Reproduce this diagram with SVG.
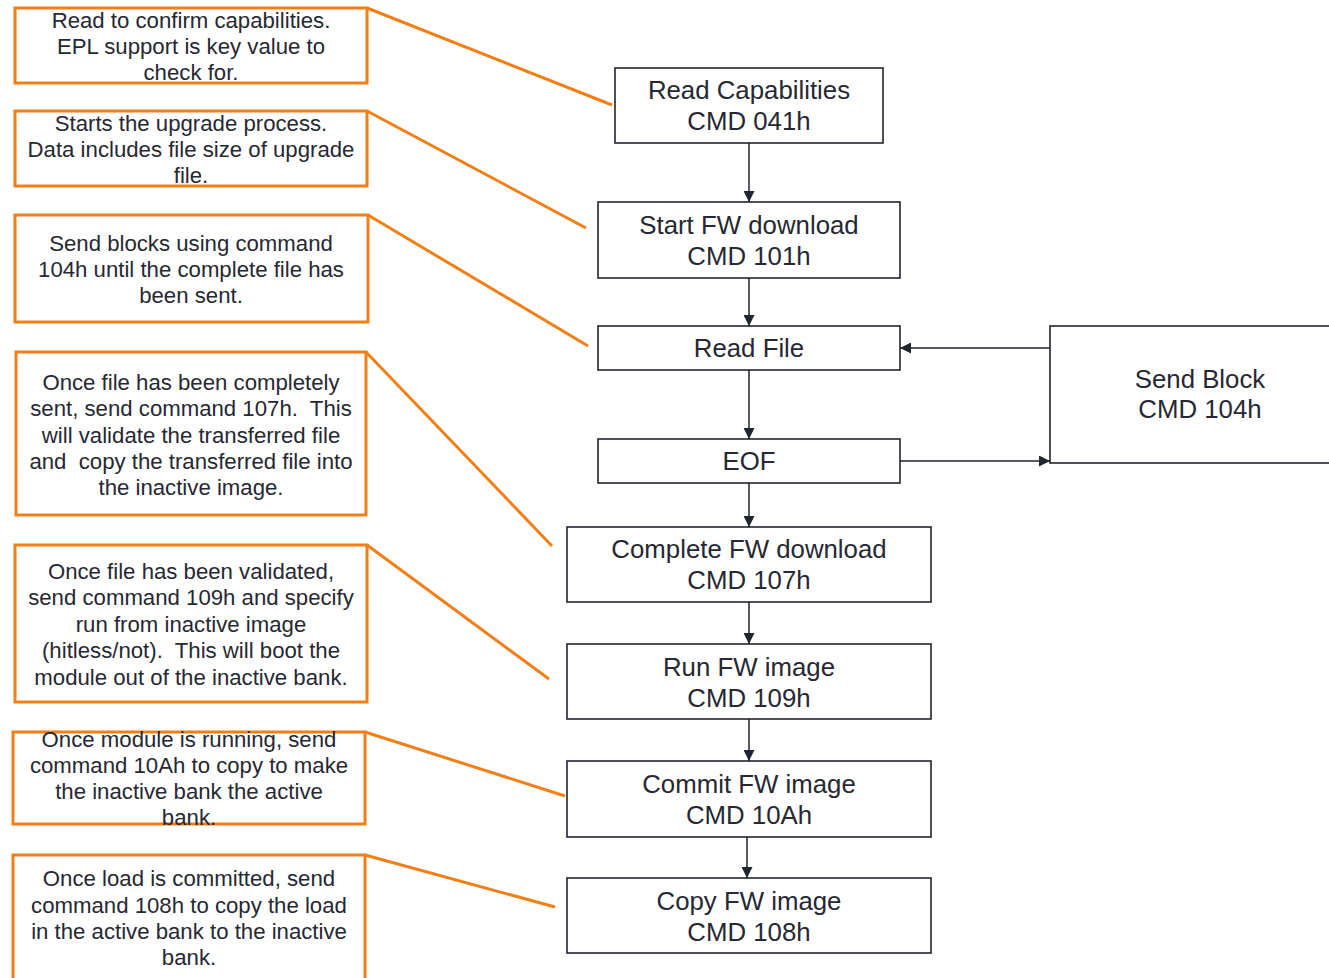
<svg xmlns="http://www.w3.org/2000/svg" width="1329" height="978" viewBox="0 0 1329 978">
<style>
.note{fill:#fff;stroke:#F07F16;stroke-width:3}
.lead{stroke:#F07F16;stroke-width:3;fill:none}
.box{fill:#fff;stroke:#22252e;stroke-width:1.6}
.edge{stroke:#22252e;stroke-width:1.5;fill:none;marker-end:url(#ah)}
.nt{font-family:"Liberation Sans",Arial,sans-serif;font-size:22.2px;fill:#262833;text-anchor:middle;white-space:pre}
.bt{font-family:"Liberation Sans",Arial,sans-serif;font-size:25.8px;fill:#262833;text-anchor:middle}
</style>
<defs>
<marker id="ah" viewBox="0 0 10 10" refX="10" refY="5" markerWidth="11" markerHeight="11" markerUnits="userSpaceOnUse" orient="auto">
<path d="M0,0 L10,5 L0,10 z" fill="#22252e"/>
</marker>
</defs>
<rect width="1329" height="978" fill="#fff"/>

<g id="leaders">
<line class="lead" x1="367" y1="8" x2="612" y2="105"/>
<line class="lead" x1="367" y1="111" x2="586" y2="228"/>
<line class="lead" x1="368" y1="215" x2="588" y2="346"/>
<line class="lead" x1="366" y1="352" x2="552" y2="546"/>
<line class="lead" x1="367" y1="545" x2="549" y2="679"/>
<line class="lead" x1="365" y1="732" x2="565" y2="796"/>
<line class="lead" x1="365" y1="855" x2="555" y2="907"/>
</g>

<g id="note1"><rect class="note" x="15" y="8" width="352" height="75"/>
<text class="nt" x="191" y="28">Read to confirm capabilities.</text>
<text class="nt" x="191" y="54">EPL support is key value to</text>
<text class="nt" x="191" y="80">check for.</text></g>

<g id="note2"><rect class="note" x="15" y="111" width="352" height="75"/>
<text class="nt" x="191" y="131">Starts the upgrade process.</text>
<text class="nt" x="191" y="157">Data includes file size of upgrade</text>
<text class="nt" x="191" y="183">file.</text></g>

<g id="note3"><rect class="note" x="15" y="215" width="353" height="107"/>
<text class="nt" x="191" y="251">Send blocks using command</text>
<text class="nt" x="191" y="277">104h until the complete file has</text>
<text class="nt" x="191" y="303">been sent.</text></g>

<g id="note4"><rect class="note" x="16" y="352" width="350" height="163"/>
<text class="nt" x="191" y="390">Once file has been completely</text>
<text class="nt" x="191" y="416">sent, send command 107h.  This</text>
<text class="nt" x="191" y="443">will validate the transferred file</text>
<text class="nt" x="191" y="469">and  copy the transferred file into</text>
<text class="nt" x="191" y="495">the inactive image.</text></g>

<g id="note5"><rect class="note" x="15" y="545" width="352" height="157"/>
<text class="nt" x="191" y="579">Once file has been validated,</text>
<text class="nt" x="191" y="605">send command 109h and specify</text>
<text class="nt" x="191" y="632">run from inactive image</text>
<text class="nt" x="191" y="658">(hitless/not).  This will boot the</text>
<text class="nt" x="191" y="685">module out of the inactive bank.</text></g>

<g id="note6"><rect class="note" x="13" y="732" width="352" height="92"/>
<text class="nt" x="189" y="747">Once module is running, send</text>
<text class="nt" x="189" y="773">command 10Ah to copy to make</text>
<text class="nt" x="189" y="799">the inactive bank the active</text>
<text class="nt" x="189" y="825">bank.</text></g>

<g id="note7"><rect class="note" x="13" y="855" width="352" height="140"/>
<text class="nt" x="189" y="886">Once load is committed, send</text>
<text class="nt" x="189" y="913">command 108h to copy the load</text>
<text class="nt" x="189" y="939">in the active bank to the inactive</text>
<text class="nt" x="189" y="965">bank.</text></g>

<g id="connectors">
<line class="edge" x1="749" y1="143" x2="749" y2="202"/>
<line class="edge" x1="749" y1="278" x2="749" y2="326"/>
<line class="edge" x1="749" y1="370" x2="749" y2="439"/>
<line class="edge" x1="749" y1="483" x2="749" y2="527"/>
<line class="edge" x1="749" y1="602" x2="749" y2="644"/>
<line class="edge" x1="749" y1="719" x2="749" y2="761"/>
<line class="edge" x1="747" y1="837" x2="747" y2="878"/>
<line class="edge" x1="1050" y1="348" x2="900" y2="348"/>
<line class="edge" x1="900" y1="461" x2="1050" y2="461"/>
</g>

<g id="readcap"><rect class="box" x="615" y="68" width="268" height="75"/>
<text class="bt" x="749" y="99">Read Capabilities</text>
<text class="bt" x="749" y="130">CMD 041h</text></g>

<g id="startfw"><rect class="box" x="598" y="202" width="302" height="76"/>
<text class="bt" x="749" y="234">Start FW download</text>
<text class="bt" x="749" y="265">CMD 101h</text></g>

<g id="readfile"><rect class="box" x="598" y="326" width="302" height="44"/>
<text class="bt" x="749" y="357">Read File</text></g>

<g id="eof"><rect class="box" x="598" y="439" width="302" height="44"/>
<text class="bt" x="749" y="470">EOF</text></g>

<g id="sendblock"><rect class="box" x="1050" y="326" width="290" height="137"/>
<text class="bt" x="1200" y="388">Send Block</text>
<text class="bt" x="1200" y="418">CMD 104h</text></g>

<g id="completefw"><rect class="box" x="567" y="527" width="364" height="75"/>
<text class="bt" x="749" y="558">Complete FW download</text>
<text class="bt" x="749" y="589">CMD 107h</text></g>

<g id="runfw"><rect class="box" x="567" y="644" width="364" height="75"/>
<text class="bt" x="749" y="676">Run FW image</text>
<text class="bt" x="749" y="707">CMD 109h</text></g>

<g id="commitfw"><rect class="box" x="567" y="761" width="364" height="76"/>
<text class="bt" x="749" y="793">Commit FW image</text>
<text class="bt" x="749" y="824">CMD 10Ah</text></g>

<g id="copyfw"><rect class="box" x="567" y="878" width="364" height="75"/>
<text class="bt" x="749" y="910">Copy FW image</text>
<text class="bt" x="749" y="941">CMD 108h</text></g>
</svg>
